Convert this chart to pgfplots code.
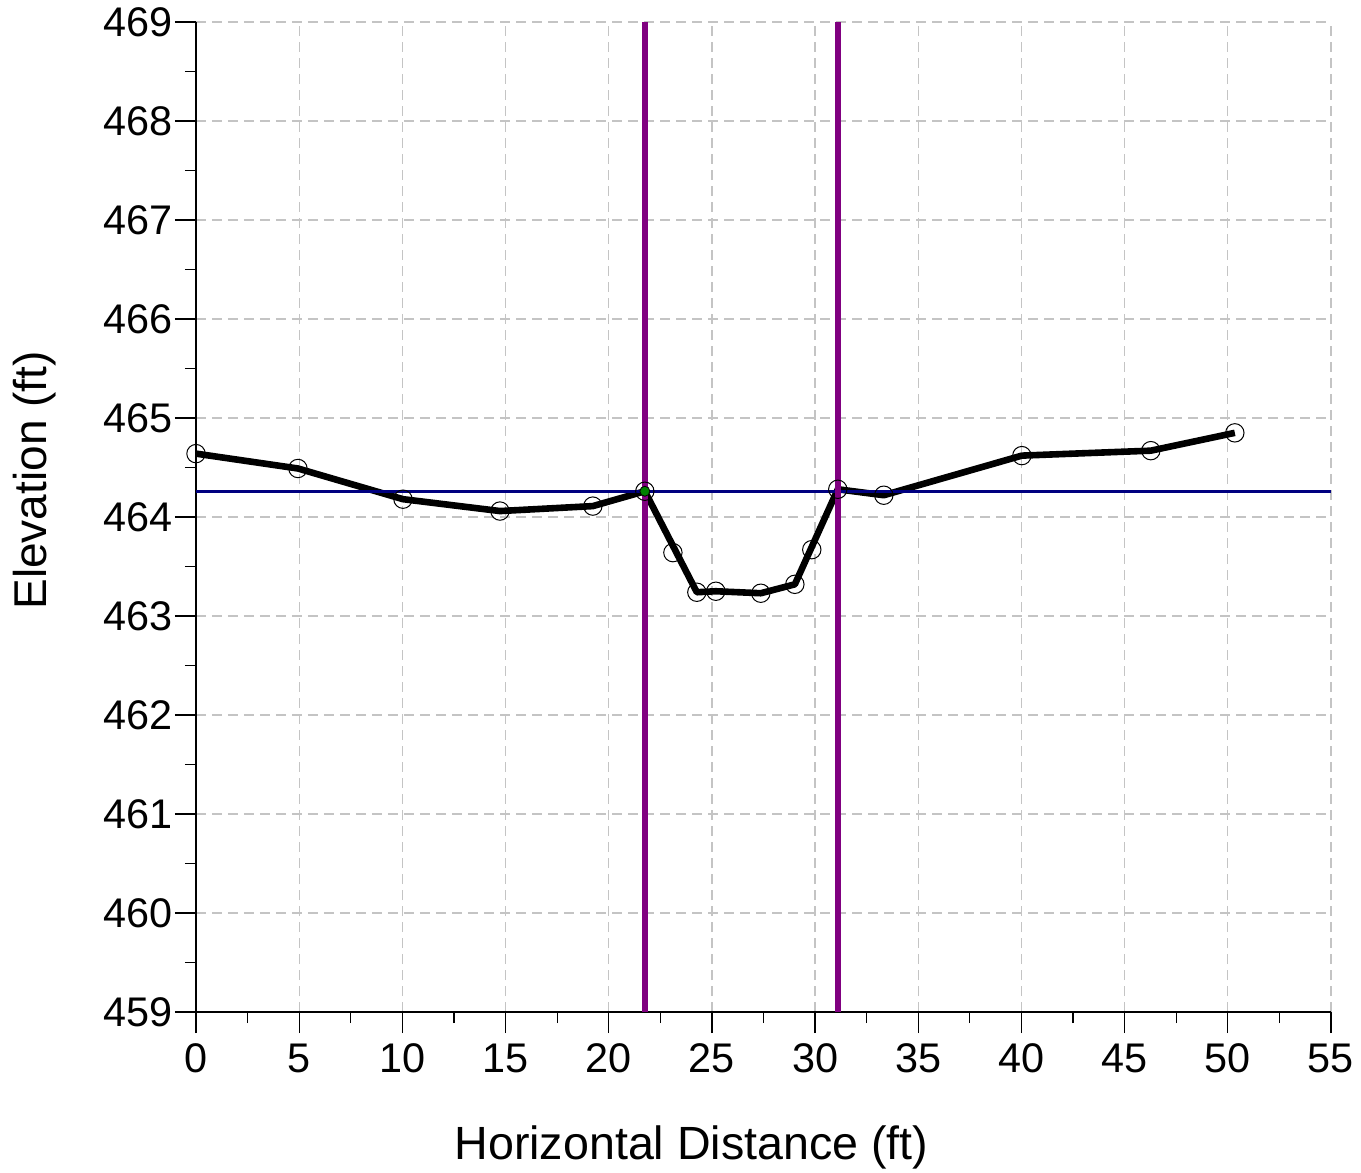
\documentclass[border=0pt]{standalone}
\usepackage{pgfplots}
\pgfplotsset{compat=1.18}
\usepackage{fontspec}
\setmainfont{Liberation Sans}

\definecolor{bankpurple}{HTML}{800080}
\definecolor{wsnavy}{HTML}{000080}
\definecolor{gridgray}{HTML}{C4C4C4}

\begin{document}
\begin{tikzpicture}
\begin{axis}[
    scale only axis,
    width=567.5pt,
    height=495pt,
    xmin=0, xmax=55,
    ymin=459, ymax=469,
    xtick distance=5,
    ytick distance=1,
    minor x tick num=1,
    minor y tick num=1,
    axis lines*=left,
    axis line style={line width=1pt},
    tick align=outside,
    major tick length=10.5pt,
    minor tick length=5.5pt,
    every tick/.style={black, line width=0.6pt},
    grid=major,
    major grid style={gridgray, dash pattern=on 5pt off 3pt, line width=0.6pt},
    tick label style={font=\fontsize{20.7}{24}\selectfont},
    /pgf/number format/assume math mode=true,
    /pgf/number format/.cd, 1000 sep={}, fixed, precision=2,
    /pgfplots/.cd,
    yticklabel style={xshift=2.5pt},
    xticklabel style={yshift=-2pt},
    xlabel={Horizontal Distance (ft)},
    ylabel={Elevation (ft)},
    xlabel style={font=\fontsize{23.3}{26}\selectfont, at={(axis description cs:0.4366,-0.1364)}, anchor=center},
    ylabel style={font=\fontsize{23}{26}\selectfont, at={(axis description cs:-0.142,0.537)}, anchor=center},
]
% ground line
\addplot[black, line width=3.3pt, line join=round] coordinates {
    (0,464.64) (4.94,464.49) (10.03,464.18) (14.73,464.06) (19.23,464.11)
    (21.75,464.26) (24.27,463.24) (25.19,463.25) (27.37,463.23) (29.02,463.32)
    (31.10,464.28) (33.33,464.22) (40.02,464.62) (46.27,464.67) (50.34,464.85)
};
% water surface
\addplot[wsnavy, line width=1.7pt] coordinates {(0,464.26) (55,464.26)};
% bank stations
\addplot[bankpurple, line width=3pt] coordinates {(21.75,459) (21.75,469)};
\addplot[bankpurple, line width=3pt] coordinates {(31.10,459) (31.10,469)};
% survey points
\addplot[only marks, mark=o, mark size=4.6pt, mark options={black, line width=0.5pt}] coordinates {
    (0,464.64) (4.94,464.49) (10.03,464.18) (14.73,464.06) (19.23,464.11)
    (21.75,464.26) (23.11,463.64) (24.27,463.24) (25.19,463.25) (27.37,463.23)
    (29.02,463.32) (29.84,463.67) (31.10,464.28) (33.33,464.22) (40.02,464.62)
    (46.27,464.67) (50.34,464.85)
};
\addplot[only marks, mark=*, mark size=2.5pt, mark options={draw=none, fill=green!50!black}] coordinates {(21.75,464.26)};
\coordinate (o) at (rel axis cs:0,0);
\end{axis}
\pgfresetboundingbox
\path (o) ++(-98pt,-80.5pt) rectangle ++(680.5pt,586.5pt);
\end{tikzpicture}
\end{document}
